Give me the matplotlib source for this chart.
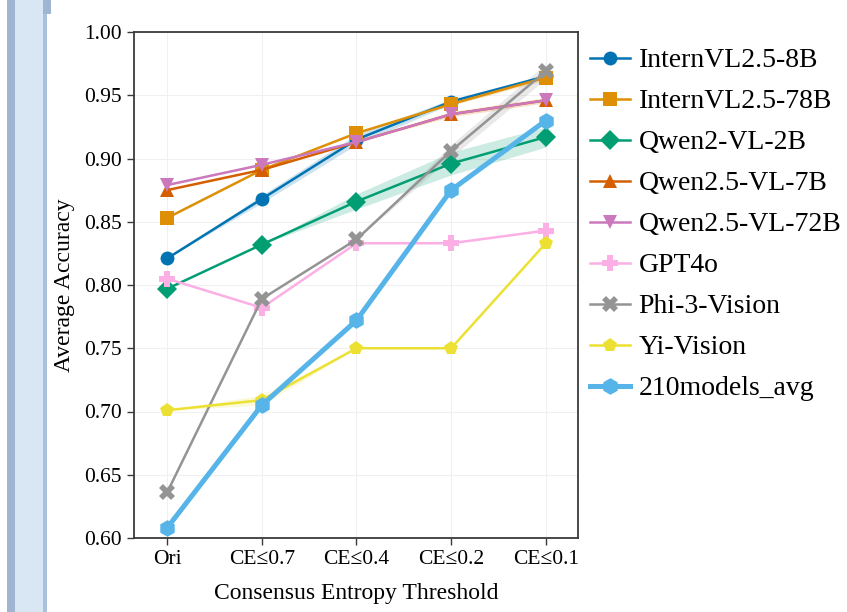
import matplotlib
matplotlib.use('Agg')
import matplotlib.pyplot as plt
from matplotlib.patches import Rectangle
import numpy as np

plt.rcParams['font.family'] = ['Liberation Serif', 'DejaVu Serif']

thresholds = ['Ori', 'CE≤0.7', 'CE≤0.4', 'CE≤0.2', 'CE≤0.1']

model_names = ['InternVL2.5-8B', 'InternVL2.5-78B', 'Qwen2-VL-2B', 'Qwen2.5-VL-7B',
               'Qwen2.5-VL-72B', 'GPT4o', 'Phi-3-Vision', 'Yi-Vision', '210models_avg']

internvl_8b = [0.821, 0.868, 0.915, 0.945, 0.965]
internvl_78b = [0.853, 0.891, 0.920, 0.943, 0.964]
qwen2_2b = [0.797, 0.832, 0.866, 0.896, 0.917]
qwen25_7b = [0.875, 0.891, 0.913, 0.935, 0.946]
qwen25_72b = [0.879, 0.895, 0.913, 0.935, 0.946]
gpt4o = [0.805, 0.782, 0.833, 0.833, 0.843]
phi3 = [0.636, 0.789, 0.836, 0.906, 0.969]
yi_vision = [0.701, 0.709, 0.750, 0.750, 0.833]
avg_210 = [0.608, 0.705, 0.772, 0.875, 0.930]

# half width of the shaded bands (rough)
band_8b = [0.0, 0.003, 0.004, 0.002, 0.001]
band_78b = [0.0, 0.0, 0.0, 0.001, 0.002]
band_qwen2 = [0.0, 0.0, 0.006, 0.009, 0.008]
band_7b = [0.0, 0.0, 0.0, 0.002, 0.002]
band_72b = [0.0, 0.0, 0.0, 0.0, 0.0]
band_gpt = [0.0, 0.0, 0.0, 0.0, 0.0]
band_phi = [0.0, 0.0, 0.0, 0.005, 0.006]
band_yi = [0.0, 0.004, 0.0, 0.0, 0.0]
band_avg = [0.0, 0.0, 0.0, 0.0, 0.0]

series = [internvl_8b, internvl_78b, qwen2_2b, qwen25_7b, qwen25_72b,
          gpt4o, phi3, yi_vision, avg_210]
bands = [band_8b, band_78b, band_qwen2, band_7b, band_72b,
         band_gpt, band_phi, band_yi, band_avg]
colors = ['#0173b2', '#de8f05', '#029e73', '#d55e00', '#cc78bc',
          '#fbafe4', '#949494', '#ece133', '#56b4e9']
markers = ['o', 's', 'D', '^', 'v', 'P', 'X', 'p', 'h']

fig = plt.figure(figsize=(8.47, 6.12), dpi=100)

# slide frame on the left edge
fig.patches.append(Rectangle((7 / 847, 0), 36 / 847, 1, transform=fig.transFigure,
                             facecolor='#d9e6f4', edgecolor='none', zorder=0))
fig.patches.append(Rectangle((7 / 847, 0), 8 / 847, 1, transform=fig.transFigure,
                             facecolor='#9fb5d1', edgecolor='none', zorder=0))
fig.patches.append(Rectangle((43 / 847, 0), 4 / 847, 1, transform=fig.transFigure,
                             facecolor='#abc0da', edgecolor='none', zorder=0))
fig.patches.append(Rectangle((43 / 847, 1 - 14 / 612), 8 / 847, 14 / 612, transform=fig.transFigure,
                             facecolor='#9fb5d1', edgecolor='none', zorder=0))

ax = fig.add_axes([134 / 847, 1 - 538 / 612, 444 / 847, 506 / 612])

x = np.arange(len(thresholds))
for name, vals, band, c, m in zip(model_names, series, bands, colors, markers):
    vals = np.array(vals)
    band = np.array(band)
    big = name == '210models_avg'
    if band.max() > 0:
        ax.fill_between(x, vals - band, vals + band, color=c, alpha=0.2, lw=0)
    ms = 10
    if big:
        ms = 12
    elif m in ('P', 'X'):
        ms = 11
    ax.plot(x, vals, color=c, marker=m, label=name,
            lw=3.6 if big else 1.8, markersize=ms, markeredgewidth=0)

ax.set_xlim(-0.35, 4.34)
ax.set_ylim(0.60, 1.00)
ax.set_xticks(x)
ax.set_xticklabels(thresholds)
ax.set_yticks(np.arange(0.60, 1.001, 0.05))
ax.set_yticklabels(['%.2f' % v for v in np.arange(0.60, 1.001, 0.05)])
ax.grid(True, color='#f0f0f0', lw=0.8)
ax.set_axisbelow(True)
for sp in ax.spines.values():
    sp.set_color('#3a3a3a')
    sp.set_linewidth(1.3)
ax.tick_params(axis='both', labelsize=15.5, length=5, width=1, color='#3a3a3a', pad=4)
ax.set_xlabel('Consensus Entropy Threshold', fontsize=17, labelpad=10)
ax.set_ylabel('Average Accuracy', fontsize=17, labelpad=6)

ax.legend(loc='upper left', bbox_to_anchor=(590 / 847, 1 - 48 / 612),
          bbox_transform=fig.transFigure, frameon=False, fontsize=20,
          handlelength=1.45, handletextpad=0.3, labelspacing=0.56,
          borderpad=0, borderaxespad=0)

fig.savefig('out.png', dpi=100)
